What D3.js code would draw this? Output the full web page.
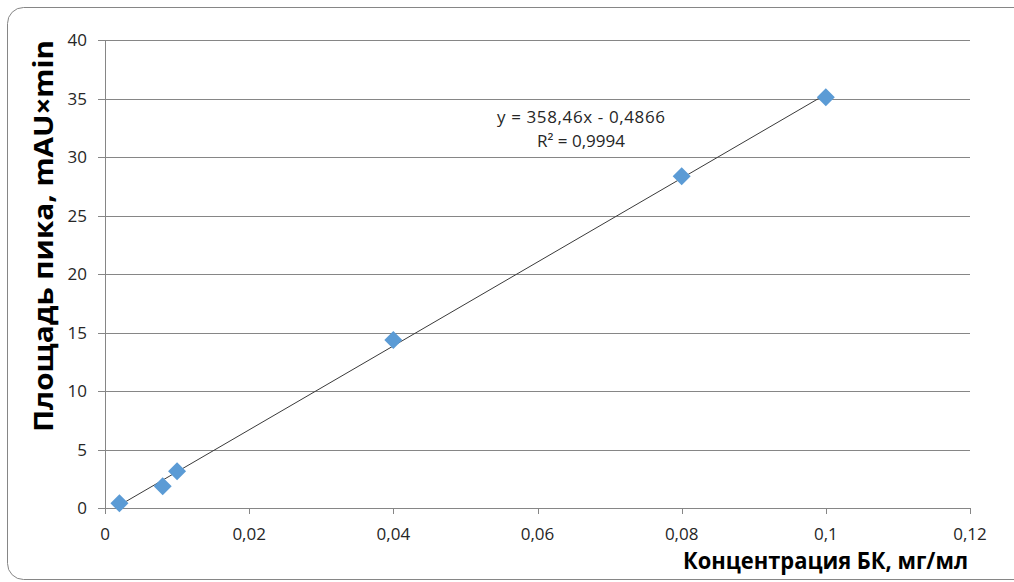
<!DOCTYPE html>
<html>
<head>
<meta charset="utf-8">
<script src="https://cdn.jsdelivr.net/npm/d3@7"></script>
<style>
  body { margin: 0; background: #fff; }
  text { font-family: "Open Sans", "Noto Sans", sans-serif; fill: #262626; }
</style>
</head>
<body>
<div id="chart"></div>
<script>
// concentration, mg/ml
var conc = [0.002, 0.008, 0.01, 0.04, 0.08, 0.1];
// peak area, mAU*min
var area = [0.4, 1.85, 3.15, 14.35, 28.35, 35.1];
var xTicks = [0, 0.02, 0.04, 0.06, 0.08, 0.1, 0.12];
var yTicks = [0, 5, 10, 15, 20, 25, 30, 35, 40];
var slope = 358.46, icpt = -0.4866;
var eqText = 'y = 358,46x - 0,4866';
var r2Text = 'R² = 0,9994';

var W = 1014, H = 582;
var svg = d3.select('#chart').append('svg').attr('width', W).attr('height', H);

// outer frame
svg.append('rect').attr('x', 7.5).attr('y', 7.5).attr('width', 1030).attr('height', 572)
  .attr('rx', 16).attr('fill', '#fff').attr('stroke', '#868686').attr('stroke-width', 1);

var x = d3.scaleLinear().domain([0, 0.12]).range([105, 970]);
var y = d3.scaleLinear().domain([0, 40]).range([508, 40]);
var fmt = function(d){ return String(d).replace('.', ','); };

// horizontal gridlines
svg.append('g').selectAll('line').data(yTicks).enter().append('line')
  .attr('x1', 98).attr('x2', x(0.12))
  .attr('y1', function(d){ return Math.round(y(d)) + 0.5; })
  .attr('y2', function(d){ return Math.round(y(d)) + 0.5; })
  .attr('stroke', '#868686').attr('stroke-width', 1);

// y axis line
svg.append('line').attr('x1', 105.5).attr('x2', 105.5).attr('y1', y(40)).attr('y2', y(0) + 6)
  .attr('stroke', '#868686');

// x ticks
svg.append('g').selectAll('line').data(xTicks.slice(1)).enter().append('line')
  .attr('x1', function(d){ return Math.round(x(d)) + 0.5; })
  .attr('x2', function(d){ return Math.round(x(d)) + 0.5; })
  .attr('y1', y(0)).attr('y2', y(0) + 6)
  .attr('stroke', '#868686');

// tick labels
svg.append('g').selectAll('text').data(yTicks).enter().append('text')
  .attr('x', 87).attr('y', function(d){ return y(d) + 6; })
  .attr('text-anchor', 'end').style('font-size', '17px').text(fmt);
svg.append('g').selectAll('text').data(xTicks).enter().append('text')
  .attr('x', function(d){ return x(d); }).attr('y', 540)
  .attr('text-anchor', 'middle').style('font-size', '17px').text(fmt);

// trend line
svg.append('line')
  .attr('x1', x(conc[0])).attr('y1', y(slope * conc[0] + icpt))
  .attr('x2', x(conc[conc.length-1])).attr('y2', y(slope * conc[conc.length-1] + icpt))
  .attr('stroke', '#3a3a3a').attr('stroke-width', 1);

// points
svg.append('g').selectAll('path').data(conc).enter().append('path')
  .attr('d', 'M0,-9L9,0L0,9L-9,0Z')
  .attr('transform', function(d, i){ return 'translate(' + x(d) + ',' + y(area[i]) + ')'; })
  .attr('fill', '#5b9bd5');

// equation
svg.append('text').attr('x', 581).attr('y', 123).attr('text-anchor', 'middle')
  .attr('textLength', 168).attr('lengthAdjust', 'spacing')
  .style('font-size', '17px').text(eqText);
svg.append('text').attr('x', 581).attr('y', 147).attr('text-anchor', 'middle')
  .style('font-size', '17px').text(r2Text);

// axis titles
svg.append('text').attr('x', 968).attr('y', 569).attr('text-anchor', 'end')
  .attr('textLength', 285).attr('lengthAdjust', 'spacingAndGlyphs')
  .style('font-size', '24px').style('font-weight', 'bold').style('fill', '#000')
  .text('Концентрация БК, мг/мл');
svg.append('text').attr('transform', 'translate(53,236) rotate(-90)').attr('text-anchor', 'middle')
  .attr('textLength', 392).attr('lengthAdjust', 'spacingAndGlyphs')
  .style('font-size', '26px').style('font-weight', 'bold').style('fill', '#000')
  .text('Площадь пика, mAU×min');
</script>
</body>
</html>
